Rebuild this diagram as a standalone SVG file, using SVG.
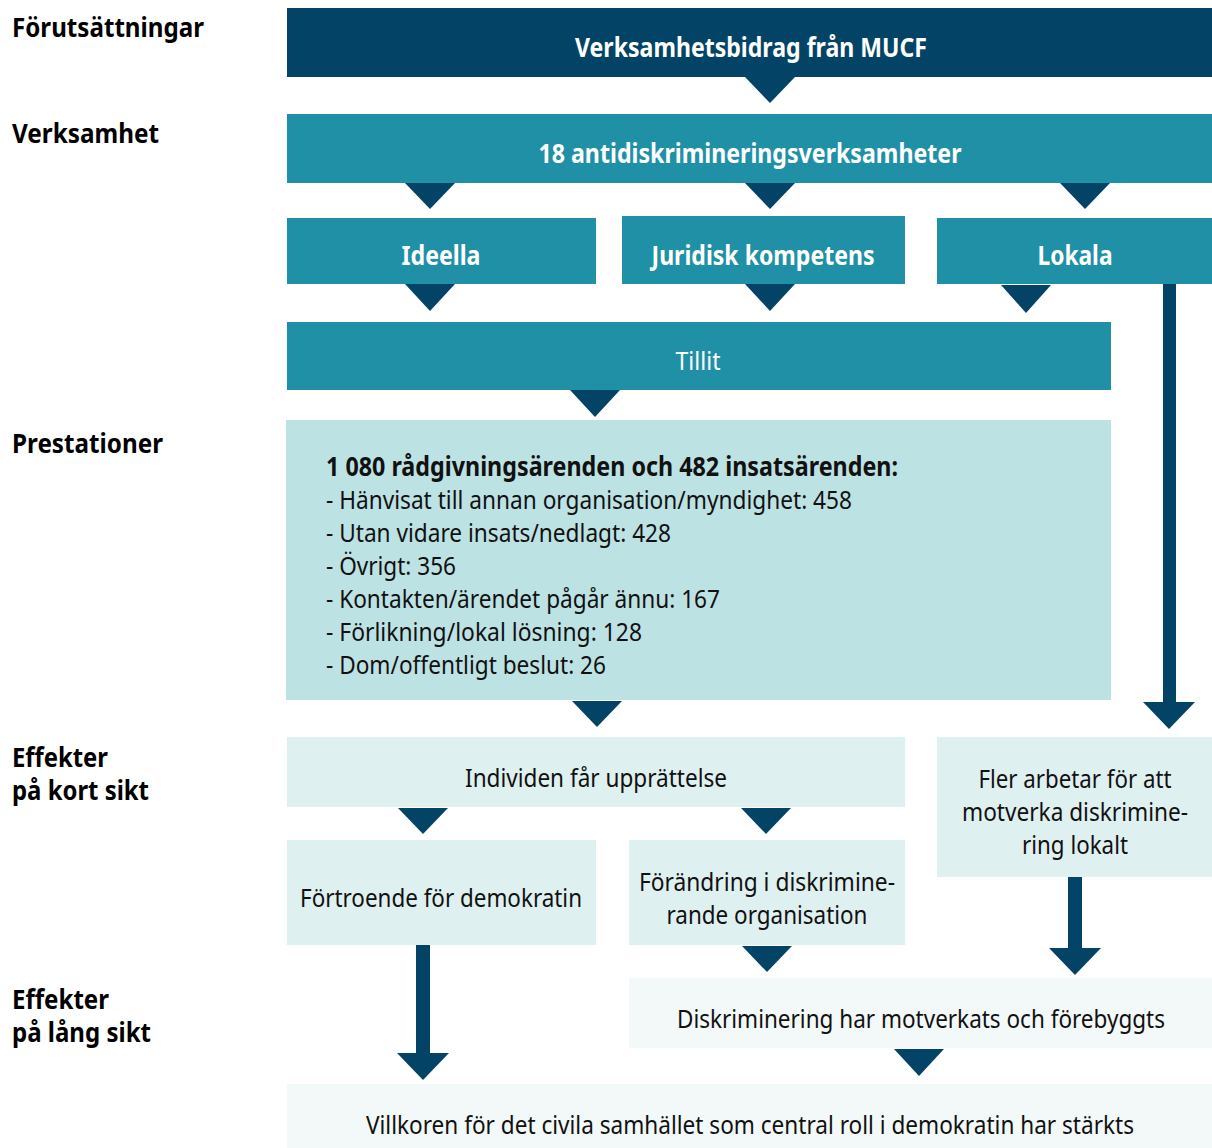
<svg xmlns="http://www.w3.org/2000/svg" width="1212" height="1148" viewBox="0 0 1212 1148">
<style>
text{font-family:"Noto Sans","Open Sans","Liberation Sans",sans-serif;font-size:26px}
.lab{font-weight:bold;fill:#000}
.hw{font-weight:bold;fill:#fff}
.w{fill:#fff}
.d{fill:#111}
.c{text-anchor:middle}
.navy{fill:#034466}
.teal{fill:#2090a6}
.l1{fill:#bde2e4}
.l2{fill:#dff0f0}
.l3{fill:#f3f9f9}
.tri{fill:#034466}
</style>
<rect width="1212" height="1148" fill="#fff"/>
<g id="labels">
<text class="lab" x="12" y="37" textLength="192" lengthAdjust="spacingAndGlyphs">Förutsättningar</text>
<text class="lab" x="12" y="143" textLength="147" lengthAdjust="spacingAndGlyphs">Verksamhet</text>
<text class="lab" x="12" y="453" textLength="151" lengthAdjust="spacingAndGlyphs">Prestationer</text>
<text class="lab" x="12" y="767" textLength="96" lengthAdjust="spacingAndGlyphs">Effekter</text>
<text class="lab" x="12" y="800" textLength="137" lengthAdjust="spacingAndGlyphs">på kort sikt</text>
<text class="lab" x="12" y="1009" textLength="97" lengthAdjust="spacingAndGlyphs">Effekter</text>
<text class="lab" x="12" y="1042" textLength="139" lengthAdjust="spacingAndGlyphs">på lång sikt</text>
</g>
<g id="connectors">
<polygon class="tri" points="745,77 795,77 770,103"/>
<polygon class="tri" points="405,183 455,183 430,209"/>
<polygon class="tri" points="745,183 795,183 770,209"/>
<polygon class="tri" points="1060,183 1110,183 1085,209"/>
<polygon class="tri" points="405,284 455,284 430,311"/>
<polygon class="tri" points="745,284 795,284 770,311"/>
<polygon class="tri" points="1001,285 1051,285 1026,313"/>
<rect class="tri" x="1163" y="284" width="13" height="420"/>
<polygon class="tri" points="1143,702 1195,702 1169,729"/>
<polygon class="tri" points="570,390 620,390 595,417"/>
<polygon class="tri" points="572,701 622,701 597,727"/>
<polygon class="tri" points="398,808 448,808 423,834"/>
<polygon class="tri" points="741,808 791,808 766,834"/>
<rect class="tri" x="1068" y="877" width="14" height="73"/>
<polygon class="tri" points="1049,948 1101,948 1075,975"/>
<polygon class="tri" points="742,946 792,946 767,972"/>
<polygon class="tri" points="894,1049 944,1049 919,1076"/>
<rect class="tri" x="416" y="945" width="14" height="110"/>
<polygon class="tri" points="397,1053 449,1053 423,1080"/>
</g>
<g id="n-mucf">
<rect class="navy" x="287" y="8" width="925" height="69"/>
<text class="hw c" x="751" y="57" textLength="352" lengthAdjust="spacingAndGlyphs">Verksamhetsbidrag från MUCF</text>
</g>
<g id="n-verksamheter">
<rect class="teal" x="287" y="114" width="925" height="69"/>
<text class="hw c" x="750" y="163" textLength="423" lengthAdjust="spacingAndGlyphs">18 antidiskrimineringsverksamheter</text>
</g>
<g id="n-ideella">
<rect class="teal" x="287" y="218" width="309" height="66"/>
<text class="hw c" x="441" y="265" textLength="79" lengthAdjust="spacingAndGlyphs">Ideella</text>
</g>
<g id="n-juridisk">
<rect class="teal" x="622" y="216" width="283" height="68"/>
<text class="hw c" x="763" y="265" textLength="223" lengthAdjust="spacingAndGlyphs">Juridisk kompetens</text>
</g>
<g id="n-lokala">
<rect class="teal" x="937" y="218" width="275" height="66"/>
<text class="hw c" x="1075" y="265" textLength="75" lengthAdjust="spacingAndGlyphs">Lokala</text>
</g>
<g id="n-tillit">
<rect class="teal" x="287" y="322" width="824" height="68"/>
<text class="w c" x="698" y="370" textLength="45" lengthAdjust="spacingAndGlyphs">Tillit</text>
</g>
<g id="n-prestationer">
<rect class="l1" x="286" y="420" width="825" height="280"/>
<text x="326" y="476" font-weight="bold" class="d" textLength="572" lengthAdjust="spacingAndGlyphs">1 080 rådgivningsärenden och 482 insatsärenden:</text>
<text class="d" x="326" y="509" textLength="526" lengthAdjust="spacingAndGlyphs">- Hänvisat till annan organisation/myndighet: 458</text>
<text class="d" x="326" y="542" textLength="345" lengthAdjust="spacingAndGlyphs">- Utan vidare insats/nedlagt: 428</text>
<text class="d" x="326" y="575" textLength="130" lengthAdjust="spacingAndGlyphs">- Övrigt: 356</text>
<text class="d" x="326" y="608" textLength="394" lengthAdjust="spacingAndGlyphs">- Kontakten/ärendet pågår ännu: 167</text>
<text class="d" x="326" y="641" textLength="316" lengthAdjust="spacingAndGlyphs">- Förlikning/lokal lösning: 128</text>
<text class="d" x="326" y="674" textLength="280" lengthAdjust="spacingAndGlyphs">- Dom/offentligt beslut: 26</text>
</g>
<g id="n-individen">
<rect class="l2" x="287" y="737" width="618" height="70"/>
<text class="d c" x="596" y="787" textLength="262" lengthAdjust="spacingAndGlyphs">Individen får upprättelse</text>
</g>
<g id="n-fler">
<rect class="l2" x="937" y="737" width="275" height="140"/>
<text class="d c" x="1075" y="788" textLength="193" lengthAdjust="spacingAndGlyphs">Fler arbetar för att</text>
<text class="d c" x="1075" y="821" textLength="226" lengthAdjust="spacingAndGlyphs">motverka diskrimine-</text>
<text class="d c" x="1075" y="854" textLength="106" lengthAdjust="spacingAndGlyphs">ring lokalt</text>
</g>
<g id="n-fortroende">
<rect class="l2" x="287" y="840" width="309" height="105"/>
<text class="d c" x="441" y="907" textLength="282" lengthAdjust="spacingAndGlyphs">Förtroende för demokratin</text>
</g>
<g id="n-forandring">
<rect class="l2" x="629" y="840" width="276" height="105"/>
<text class="d c" x="767" y="891" textLength="256" lengthAdjust="spacingAndGlyphs">Förändring i diskrimine-</text>
<text class="d c" x="767" y="924" textLength="201" lengthAdjust="spacingAndGlyphs">rande organisation</text>
</g>
<g id="n-diskriminering">
<rect class="l3" x="629" y="978" width="583" height="70"/>
<text class="d c" x="921" y="1028" textLength="488" lengthAdjust="spacingAndGlyphs">Diskriminering har motverkats och förebyggts</text>
</g>
<g id="n-villkoren">
<rect class="l3" x="287" y="1084" width="925" height="64"/>
<text class="d c" x="750" y="1134" textLength="768" lengthAdjust="spacingAndGlyphs">Villkoren för det civila samhället som central roll i demokratin har stärkts</text>
</g>
</svg>
